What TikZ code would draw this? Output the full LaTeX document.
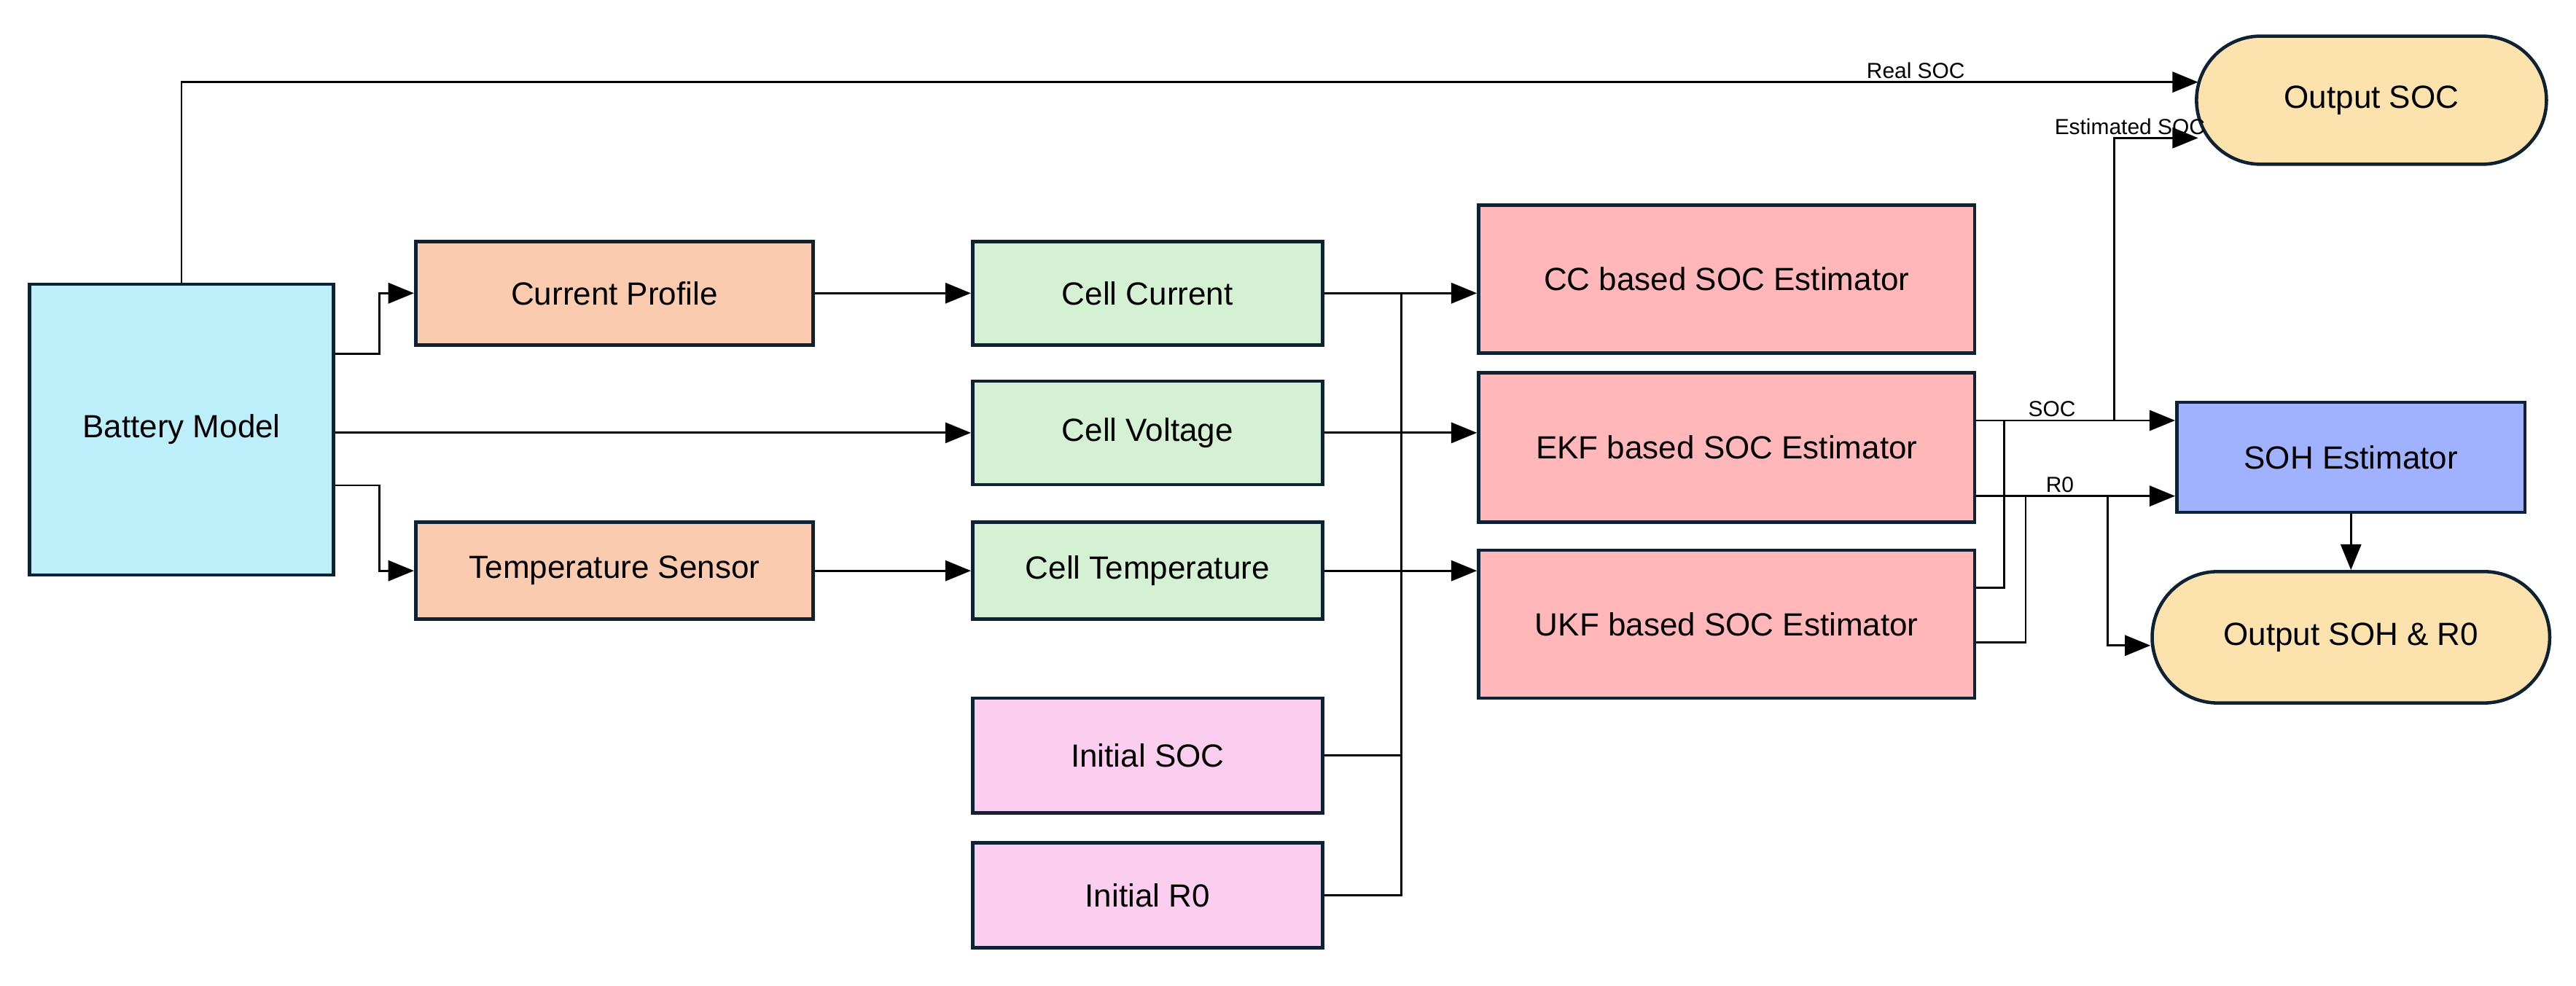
\documentclass[tikz,border=0pt]{standalone}
\usepackage{fontspec}
\setmainfont{Liberation Sans}
\usetikzlibrary{calc,arrows.meta,shapes.misc}
\definecolor{bd}{HTML}{0E2233}
\definecolor{cbat}{HTML}{BDEFFB}
\definecolor{corg}{HTML}{FBCBB0}
\definecolor{cgrn}{HTML}{D4F1D4}
\definecolor{cpnk}{HTML}{FBCDEF}
\definecolor{cred}{HTML}{FFB7BA}
\definecolor{cblu}{HTML}{9FB1FF}
\definecolor{cyel}{HTML}{FCE3AE}
\newcommand\bx[7]{\pgfmathsetmacro\bw{(#4-#2)*0.0225}\pgfmathsetmacro\bh{(#5-#3)*0.0225}%
\node[#6,minimum width=\bw cm,minimum height=\bh cm] (#1) at ({(#2+#4)/2},{(#3+#5)/2}) {#7};}
\begin{document}
\begin{tikzpicture}[x=0.0225cm,y=-0.0225cm,
  box/.style={draw=bd,line width=1.3pt,inner sep=0pt,font=\fontsize{12.5}{14}\selectfont},
  stad/.style={box,rounded rectangle},
  ln/.style={line width=0.8pt},
  arr/.style={ln,-{Triangle[length=10pt,width=8pt]}},
  lab/.style={font=\fontsize{8.5}{10}\selectfont,inner sep=1pt}]
\useasboundingbox (0,0) rectangle (1568,600);
\bx{bat}{18}{173}{203}{350}{box,fill=cbat}{Battery Model}
\bx{cp}{253}{147}{495}{210}{box,fill=corg}{Current Profile}
\bx{ts}{253}{318}{495}{377}{box,fill=corg}{Temperature Sensor}
\bx{cc}{592}{147}{805}{210}{box,fill=cgrn}{Cell Current}
\bx{cv}{592}{232}{805}{295}{box,fill=cgrn}{Cell Voltage}
\bx{ct}{592}{318}{805}{377}{box,fill=cgrn}{Cell Temperature}
\bx{isoc}{592}{425}{805}{495}{box,fill=cpnk}{Initial SOC}
\bx{ir}{592}{513}{805}{577}{box,fill=cpnk}{Initial R0}
\bx{ccse}{900}{125}{1202}{215}{box,fill=cred}{CC based SOC Estimator}
\bx{ekf}{900}{227}{1202}{318}{box,fill=cred}{EKF based SOC Estimator}
\bx{ukf}{900}{335}{1202}{425}{box,fill=cred}{UKF based SOC Estimator}
\bx{soh}{1325}{245}{1537}{312}{box,fill=cblu}{SOH Estimator}
\bx{osoc}{1337}{22}{1550}{100}{stad,fill=cyel}{Output SOC}
\bx{osoh}{1310}{348}{1552}{428}{stad,fill=cyel}{Output SOH \& R0}
% left side
\draw[arr] (bat.north) |- ($(osoc.west)+(2,-11)$) node[lab,pos=0.93,above]{Real SOC};
\draw[arr] ($(bat.east)+(0,-46)$) -- ++(27,0) |- (cp.west);
\draw[arr] (bat.east |- cv.west) -- (cv.west);
\draw[arr] ($(bat.east)+(0,34)$) -- ++(27,0) |- (ts.west);
\draw[arr] (cp.east) -- (cc.west);
\draw[arr] (ts.east) -- (ct.west);
\draw[arr] (cc.east) -- (ccse.west |- cc.east);
\draw[arr] (cv.east) -- (ekf.west |- cv.east);
\draw[arr] (ct.east) -- (ukf.west |- ct.east);
\coordinate (bt) at (853,178.5);
\draw[ln] (isoc.east) -| (bt);
\draw[ln] (ir.east) -| (bt);
% right side
\coordinate (es) at ($(ekf.east)+(0,-16.5)$);
\coordinate (er) at ($(ekf.east)+(0,29.5)$);
\draw[arr] (es) -- (soh.west |- es) node[lab,pos=0.38,above]{SOC};
\draw[arr] (er) -- (soh.west |- er) node[lab,pos=0.42,above]{R0};
\draw[ln] ($(ukf.east)+(0,-22)$) -| (es -| 1220,0);
\draw[ln] ($(ukf.east)+(0,11)$) -| (er -| 1233,0);
\coordinate (up) at (es -| 1287,0);
\draw[arr] (up) |- ($(osoc.west)+(2,23)$) node[lab,pos=0.97,above left,xshift=6pt]{Estimated SOC};
\coordinate (dn) at (er -| 1283,0);
\draw[arr] (dn) |- (osoh.west |- 0,393);
\draw[arr] (soh.south) -- (osoh.north -| soh.south);
\end{tikzpicture}
\end{document}
